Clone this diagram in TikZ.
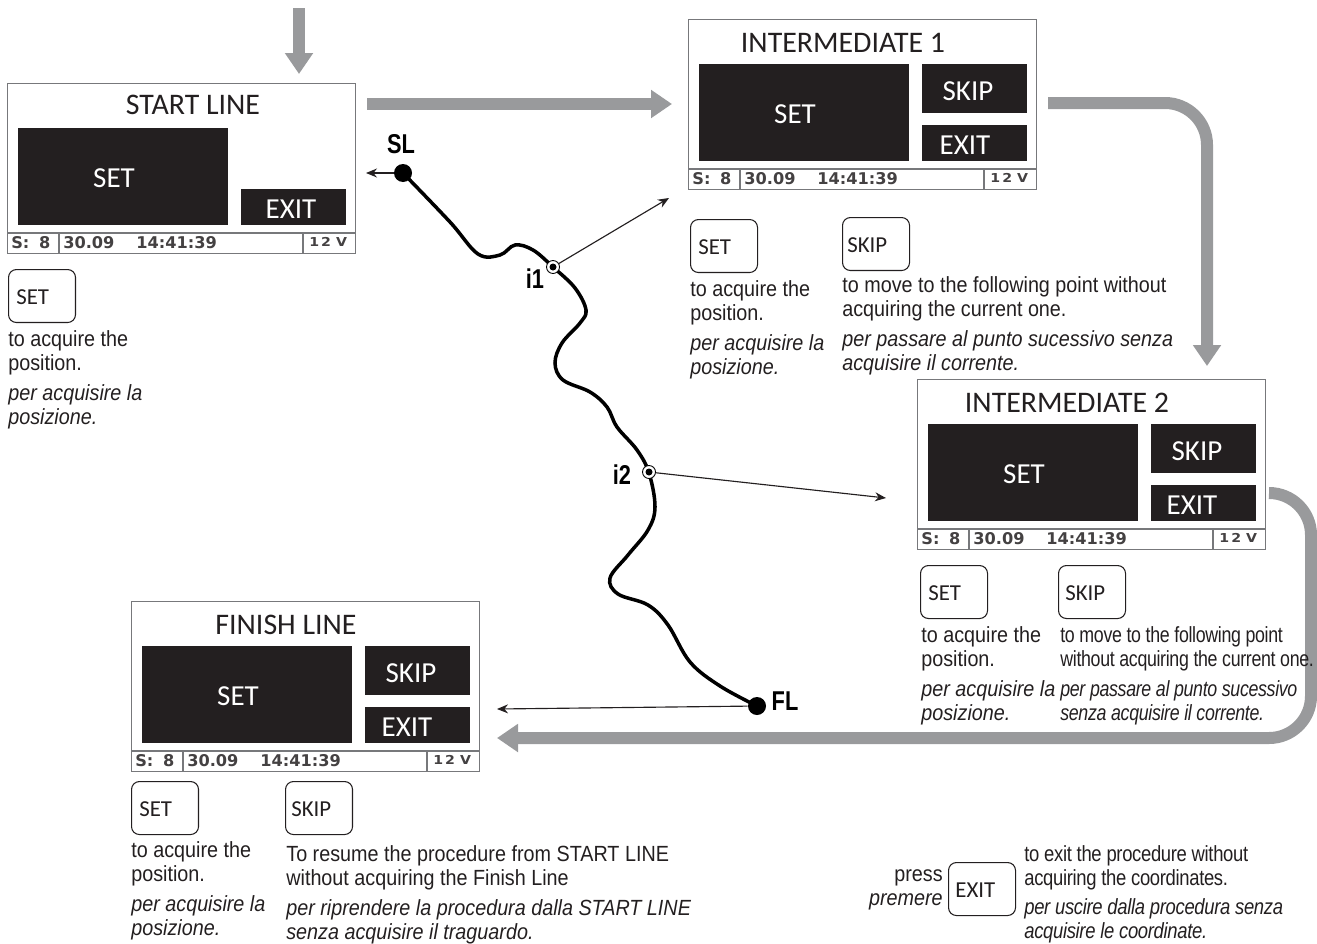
\documentclass[tikz,border=0pt]{standalone}
\usepackage{fontspec}
\usepackage{xcolor}
\usetikzlibrary{arrows.meta,calc}
\setmainfont{Liberation Sans}
\newfontfamily\noteface[FakeStretch=0.9]{Liberation Sans}
\newfontfamily\tightface[FakeStretch=0.81,LetterSpace=-1.5]{Liberation Sans}
\newfontfamily\exitface[FakeStretch=0.84,LetterSpace=-1.5]{Liberation Sans}
\newfontfamily\keyface{Carlito}
\newfontfamily\pointface[FakeStretch=0.8]{Liberation Sans}
\newfontfamily\statface{DejaVu Sans}
\newfontfamily\voltface[FakeStretch=1.15]{DejaVu Sans}
\definecolor{ink}{HTML}{231F20}
\definecolor{flow}{HTML}{999A9C}
\definecolor{rim}{HTML}{77787B}
\tikzset{
  note/.style={inner sep=0pt,anchor=base west,align=left,text=ink,font=\noteface\fontsize{12.5}{13.66}\selectfont},
  tightnote/.style={note,font=\tightface\fontsize{12.5}{13.66}\selectfont},
  exitnote/.style={note,font=\exitface\fontsize{12.5}{13.66}\selectfont},
  lcdframe/.style={draw=rim,line width=.8pt,fill=white,inner sep=0pt,minimum width=6.96cm,minimum height=3.4cm},
  lcdblock/.style={fill=ink,inner sep=0pt},
  lcdtitle/.style={inner sep=0pt,text=ink,font=\keyface\fontsize{17}{19}\selectfont},
  lcdword/.style={inner sep=0pt,text=white,font=\keyface\fontsize{16.5}{18}\selectfont},
  stat/.style={inner sep=0pt,anchor=base west,text=ink!85,font=\statface\bfseries\fontsize{9.2}{11}\selectfont},
  keybox/.style={draw=ink,line width=.6pt,rounded corners=4.5pt,inner sep=0pt,fill=white,minimum width=1.34cm,minimum height=1.06cm},
  keyword/.style={inner sep=0pt,anchor=west,text=ink,font=\keyface\fontsize{13}{15}\selectfont},
  fatflow/.style={draw=flow,line width=.24cm,-{Triangle[length=.42cm,width=.54cm]}},
  thinflow/.style={draw=ink,line width=.65pt,-{Stealth[length=.22cm,width=.18cm]}},
  endpt/.style={circle,fill=black,inner sep=0pt,minimum size=.36cm},
  midpt/.style={circle,draw=black,fill=white,line width=.5pt,inner sep=0pt,minimum size=.26cm},
  ptlabel/.style={inner sep=0pt,text=black,font=\pointface\bfseries\fontsize{15.5}{17}\selectfont},
}
% one display, #2,#3 = upper left corner, #5 = centre of the title, #6 = x of the EXIT word
\newcommand{\lcdpanel}[6]{%
  \begin{scope}[shift={(#2,#3)}]
    \node[lcdframe,anchor=north west] (#1) at (0,0) {};
    \node[lcdtitle] (#1title) at (#5) {#4};
    \node[lcdblock,minimum width=4.2cm,minimum height=1.94cm] (#1set) at (116,93.5) {};
    \node[lcdword] (#1setword) at (107,95) {SET};
    \node[lcdblock,minimum width=2.1cm,minimum height=.72cm] (#1exit) at (286.5,124) {};
    \node[lcdword] (#1exitword) at (#6,126) {EXIT};
    \draw[rim,line width=.8pt] (0,150) -- (348,150);
    \draw[rim,line width=.6pt] (52,150) -- (52,170);
    \draw[rim,line width=.6pt] (296,150) -- (296,170);
    \node[stat] (#1sat) at (4,165) {S:\hspace{5.5pt}8};
    \node[stat] (#1date) at (56,165) {30.09};
    \node[stat] (#1time) at (129,165) {14:41:39};
    \node[stat,font=\voltface\bfseries\fontsize{7}{8}\selectfont] (#1volt) at (302,163.5) {1\,2 V};
  \end{scope}
}
\newcommand{\skipblock}[1]{%
  \node[lcdblock,minimum width=2.1cm,minimum height=.98cm,anchor=north west] (#1skip) at ($(#1.north west)+(234,45)$) {};
  \node[lcdword] (#1skipword) at ($(#1.north west)+(280,72)$) {SKIP};
}
% key with its word, #2,#3 = upper left corner, #5 = indent of the word
\newcommand{\keycap}[5]{%
  \node[keybox,anchor=north west] (#1) at (#2,#3) {};
  \node[keyword] (#1word) at ($(#1.west)+(#5,1)$) {#4};
}

\begin{document}
\begin{tikzpicture}[x=.02cm,y=-.02cm]
\useasboundingbox (0,0) rectangle (1317,943);

% displays
\lcdpanel{startp}{7}{83}{START LINE}{186,22}{284}
\lcdpanel{interA}{688}{19}{INTERMEDIATE 1}{155,24}{277}
\skipblock{interA}
\lcdpanel{interB}{917}{379}{INTERMEDIATE 2}{150,24}{275}
\skipblock{interB}
\lcdpanel{finish}{131}{601}{FINISH LINE}{155,24}{276}
\skipblock{finish}

% big arrows
\coordinate (entry) at (299,8);
\coordinate (startIn) at (299,74);
\coordinate (startOut) at (367,104);
\coordinate (interAIn) at (672,104);
\coordinate (interAOut) at (1048,103);
\coordinate (interBIn) at (1207,366);
\coordinate (interBOut) at (1269,493);
\coordinate (sideB) at (1311,738);
\coordinate (finishIn) at (497,738);
\draw[fatflow] (entry) -- (startIn);
\draw[fatflow] (startOut) -- (interAIn);
\draw[fatflow,rounded corners=.84cm] (interAOut) -- (interAOut -| interBIn) -- (interBIn);
\draw[fatflow,rounded corners=.84cm] (interBOut) -- (interBOut -| sideB) -- (sideB) -- (finishIn);

% track
\draw[black,line width=2pt,line cap=round] plot[smooth,tension=.6] coordinates {
  (403,173) (450,222) (478,254) (500,255) (515,245) (533,250) (553,267) (575,288) (586,310)
  (580,323) (562,343) (555,363) (563,380) (590,392) (607,407) (617,427) (637,450) (649,473)
  (655,507) (648,530) (628,555) (610,578) (618,594) (648,605) (668,625) (690,662) (720,686) (757,706)};
\node[endpt] (sl) at (403,173) {};
\node[endpt] (fl) at (757,706) {};
\node[midpt] (ione) at (553,267) {};
\node[midpt] (itwo) at (649,472) {};
\fill[black] (ione) circle (3.5);
\fill[black] (itwo) circle (3.5);
\node[ptlabel] (sllab) at (401,144) {SL};
\node[ptlabel] (ionelab) at (535,279) {i1};
\node[ptlabel] (itwolab) at (622,475) {i2};
\node[ptlabel] (fllab) at (785,701) {FL};

% thin arrows
\coordinate (slEnd) at (366,173);
\coordinate (ioneEnd) at (669,198);
\coordinate (itwoEnd) at (886,498);
\coordinate (flEnd) at (497,709);
\draw[thinflow] (sl) -- (slEnd);
\draw[thinflow] (ione) -- (ioneEnd);
\draw[thinflow] (itwo) -- (itwoEnd);
\draw[thinflow] (fl) -- (flEnd);

% START LINE notes
\keycap{startset}{8}{269}{SET}{8}
\node[note] (startsetEn) at (8,370) {to acquire the\\position.};
\node[note] (startsetIt) at (8,424) {\itshape per acquisire la\\\itshape posizione.};

% INTERMEDIATE 1 notes
\keycap{interAset}{690}{219}{SET}{8}
\keycap{interAskip}{842}{217}{SKIP}{5}
\node[note] (interAsetEn) at (690,320) {to acquire the\\position.};
\node[note] (interAsetIt) at (690,374) {\itshape per acquisire la\\\itshape posizione.};
\node[note] (interAskipEn) at (842,316) {to move to the following point without\\acquiring the current one.};
\node[note] (interAskipIt) at (842,370) {\itshape per passare al punto sucessivo senza\\\itshape acquisire il corrente.};

% INTERMEDIATE 2 notes
\keycap{interBset}{920}{565}{SET}{8}
\keycap{interBskip}{1058}{565}{SKIP}{7}
\node[note] (interBsetEn) at (921,666) {to acquire the\\position.};
\node[note] (interBsetIt) at (921,720) {\itshape per acquisire la\\\itshape posizione.};
\node[tightnote] (interBskipEn) at (1060,666) {to move to the following point\\without acquiring the current one.};
\node[tightnote] (interBskipIt) at (1060,720) {\itshape per passare al punto sucessivo\\\itshape senza acquisire il corrente.};

% FINISH LINE notes
\keycap{finishset}{131}{781}{SET}{8}
\keycap{finishskip}{285}{781}{SKIP}{6}
\node[note] (finishsetEn) at (131,881) {to acquire the\\position.};
\node[note] (finishsetIt) at (131,935) {\itshape per acquisire la\\\itshape posizione.};
\node[note] (finishskipEn) at (286,885) {To resume the procedure from START LINE\\without acquiring the Finish Line};
\node[note] (finishskipIt) at (286,939) {\itshape per riprendere la procedura dalla START LINE\\\itshape senza acquisire il traguardo.};

% EXIT note
\keycap{exitkey}{948}{862}{EXIT}{7}
\node[note,anchor=base east,align=right] (exitpress) at (943,905) {press\\\itshape premere};
\node[exitnote] (exitEn) at (1024,885) {to exit the procedure without\\acquiring the coordinates.};
\node[exitnote] (exitIt) at (1024,938) {\itshape per uscire dalla procedura senza\\\itshape acquisire le coordinate.};
\end{tikzpicture}
\end{document}
